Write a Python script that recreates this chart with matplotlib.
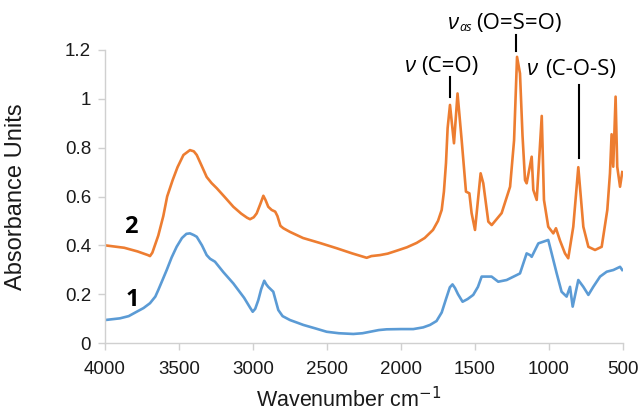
import matplotlib
matplotlib.use("Agg")
import matplotlib.pyplot as plt

# ---- data ----
wn_2 = [4000, 3870, 3780, 3710, 3696, 3680, 3640, 3606, 3580, 3543, 3510, 3470, 3426, 3400,
        3380, 3350, 3313, 3280, 3245, 3190, 3133, 3080, 3040, 3020, 2995, 2975, 2950, 2930,
        2915, 2897, 2874, 2850, 2835, 2815, 2795, 2750, 2662, 2550, 2434, 2330, 2232, 2200,
        2142, 2090, 2029, 1960, 1894, 1840, 1784, 1750, 1725, 1710, 1696, 1685,
        1669, 1642, 1618, 1590, 1561, 1538, 1523, 1500, 1462, 1444, 1410, 1387, 1320, 1263,
        1236, 1216, 1196, 1179, 1162, 1151, 1117, 1106, 1083, 1049, 1034, 1005, 971, 953,
        926, 892, 870, 836, 802, 768, 734, 689, 644, 606, 588, 577, 566, 550, 539, 520, 505]
abs_2 = [0.400, 0.390, 0.375, 0.360, 0.356, 0.370, 0.440, 0.520, 0.600, 0.667, 0.720, 0.770,
         0.790, 0.785, 0.770, 0.730, 0.680, 0.655, 0.634, 0.597, 0.558, 0.530, 0.513, 0.507,
         0.515, 0.531, 0.570, 0.603, 0.585, 0.558, 0.545, 0.538, 0.520, 0.480, 0.470, 0.455,
         0.430, 0.410, 0.388, 0.367, 0.349, 0.356, 0.360, 0.366, 0.378, 0.392, 0.410, 0.430,
         0.463, 0.500, 0.545, 0.620, 0.737, 0.880,
         0.975, 0.818, 1.022, 0.830, 0.620, 0.613, 0.532, 0.463, 0.695, 0.654, 0.497, 0.483,
         0.532, 0.640, 0.830, 1.172, 1.104, 0.850, 0.667, 0.654, 0.763, 0.627, 0.586, 0.930,
         0.586, 0.476, 0.449, 0.470, 0.420, 0.367, 0.347, 0.476, 0.720, 0.476, 0.394, 0.381,
         0.394, 0.545, 0.695, 0.855, 0.722, 1.009, 0.722, 0.640, 0.700]

wn_1 = [4000, 3899, 3840, 3786, 3740, 3696, 3660, 3640, 3610, 3583, 3550, 3516, 3480, 3450,
        3426, 3400, 3380, 3345, 3313, 3290, 3257, 3200, 3133, 3060, 3020, 3002, 2985, 2964,
        2945, 2924, 2910, 2897, 2880, 2863, 2845, 2829, 2800, 2750, 2700, 2660, 2580, 2502,
        2420, 2322, 2260, 2209, 2150, 2097, 2000, 1917, 1850, 1804, 1760, 1725, 1696, 1670,
        1652, 1635, 1615, 1584, 1550, 1512, 1480, 1455, 1388, 1343, 1286, 1219, 1196, 1151,
        1128, 1117, 1072, 1038, 1005, 982, 948, 915, 881, 858, 840, 802, 768, 734, 701, 655,
        610, 565, 520, 505]
abs_1 = [0.094, 0.101, 0.110, 0.128, 0.143, 0.163, 0.190, 0.217, 0.260, 0.299, 0.350, 0.394,
         0.430, 0.447, 0.449, 0.442, 0.435, 0.400, 0.360, 0.345, 0.333, 0.290, 0.244, 0.185,
         0.145, 0.128, 0.140, 0.176, 0.220, 0.255, 0.240, 0.230, 0.220, 0.210, 0.170, 0.135,
         0.110, 0.094, 0.083, 0.074, 0.060, 0.046, 0.040, 0.037, 0.040, 0.046, 0.053, 0.056,
         0.057, 0.057, 0.064, 0.074, 0.090, 0.125, 0.180, 0.228, 0.240, 0.225, 0.200, 0.169,
         0.180, 0.197, 0.230, 0.272, 0.272, 0.251, 0.258, 0.278, 0.285, 0.367, 0.360, 0.353,
         0.408, 0.415, 0.422, 0.367, 0.285, 0.210, 0.190, 0.230, 0.149, 0.258, 0.230, 0.197,
         0.230, 0.272, 0.292, 0.299, 0.312, 0.299]

x_ticks = [4000, 3500, 3000, 2500, 2000, 1500, 1000, 500]
y_ticks = [0, 0.2, 0.4, 0.6, 0.8, 1.0, 1.2]
y_tick_labels = ["0", "0.2", "0.4", "0.6", "0.8", "1", "1.2"]

# annotation marker lines: (x, y_bottom, y_top)
band_lines = [(1669, 1.006, 1.091), (1223, 1.195, 1.262), (800, 0.756, 1.056)]

# ---- figure ----
fig = plt.figure(figsize=(6.44, 4.18), dpi=100)
ax = fig.add_axes([105 / 644, 1 - 343 / 418, 518 / 644, 293 / 418])

orange = "#ED7D31"
blue = "#5B9BD5"
ax.plot(wn_2, abs_2, color=orange, lw=1.9, solid_joinstyle="round")
ax.plot(wn_1, abs_1, color=blue, lw=1.9, solid_joinstyle="round")

ax.set_xlim(4000, 500)
ax.set_ylim(0, 1.2)
ax.set_xticks(x_ticks)
ax.set_xticklabels([str(t) for t in x_ticks])
ax.set_yticks(y_ticks)
ax.set_yticklabels(y_tick_labels)

for s in ["top", "right"]:
    ax.spines[s].set_visible(False)
for s in ["left", "bottom"]:
    ax.spines[s].set_color("#D0D0D0")
    ax.spines[s].set_linewidth(1.0)

ax.tick_params(axis="both", direction="out", length=5, width=1.0, color="#D0D0D0",
               labelcolor="#1a1a1a", labelsize=13.5)
ax.tick_params(axis="x", pad=8)
ax.tick_params(axis="y", pad=5)
for lab in ax.get_xticklabels() + ax.get_yticklabels():
    lab.set_family("Liberation Sans")

ax.set_xlabel("Wavenumber cm$^{-1}$", fontsize=15.5, family="Liberation Sans", color="#1a1a1a")
ax.xaxis.set_label_coords((349 - 105) / 518, -0.15)
ax.set_ylabel("Absorbance Units", fontsize=17, family="Liberation Sans", color="#1a1a1a")
ax.yaxis.set_label_coords(-0.15, 0.5)

# curve labels
ax.text(3824, 0.476, "2", fontsize=17, fontweight="bold", family="Open Sans",
        ha="center", va="center")
ax.text(3816, 0.176, "1", fontsize=17, fontweight="bold", family="Open Sans",
        ha="center", va="center")

# band annotations
for xb, y0, y1 in band_lines:
    ax.plot([xb, xb], [y0, y1], color="black", lw=1.5, clip_on=False)

afam = ["Open Sans", "DejaVu Sans"]
asz = 16
ax.text(1973, 1.134, "\u03bd", fontsize=asz, style="italic", family=afam,
        ha="left", va="center")
ax.text(1865, 1.134, "(C=O)", fontsize=asz, family=afam, ha="left", va="center")

ax.text(1682, 1.31, "\u03bd", fontsize=asz, style="italic", family=afam,
        ha="left", va="center")
ax.text(1605, 1.292, "as", fontsize=9, style="italic", family=afam,
        ha="left", va="center")
ax.text(1493, 1.31, "(O=S=O)", fontsize=asz, family=afam, ha="left", va="center")

ax.text(1149, 1.12, "\u03bd", fontsize=asz, style="italic", family=afam,
        ha="left", va="center")
ax.text(1027, 1.12, "(C-O-S)", fontsize=asz, family=afam, ha="left", va="center")

fig.savefig("out.png", dpi=100)
